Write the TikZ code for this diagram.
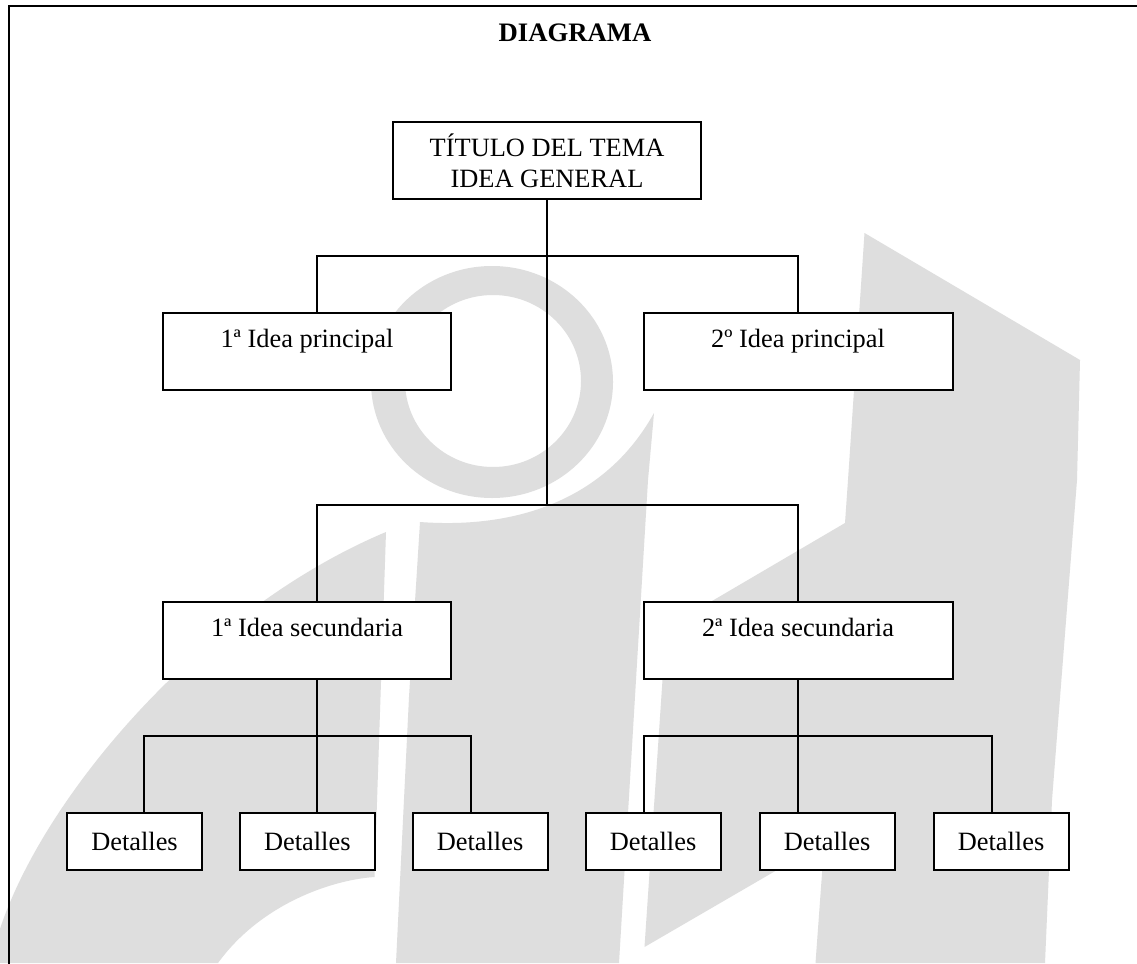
\documentclass[tikz,border=0pt]{standalone}
\usepackage{fontspec}
\setmainfont{Liberation Serif}
\definecolor{wm}{HTML}{DEDEDE}
\tikzset{
  ln/.style={line width=1.5pt,black},
  bx/.style={draw=black,line width=1.5pt,fill=white,inner sep=0pt,align=center,font=\fontsize{19.8pt}{23.4pt}\selectfont,text=black},
  mark shape/.style={fill=wm,draw=none}
}
\begin{document}
\begin{tikzpicture}[x=0.75pt,y=-0.75pt]
\useasboundingbox (0,0) rectangle (1137,963);
\fill[white] (0,0) rectangle (1137,963);
\begin{scope}
\clip (0,0) rectangle (1137,963);
% watermark
\fill[mark shape,even odd rule] (492,382) ellipse [x radius=121,y radius=116] (493,381) ellipse [x radius=88,y radius=86];
\fill[mark shape] (386,532) -- (374.5,877) .. controls (330,880) and (260,905) .. (218,963) -- (-2,963) -- (-2,935) .. controls (40,800) and (200,610) .. (386,532) -- cycle;
\fill[mark shape] (420,522) .. controls (500,528) and (600,510) .. (654,413) -- (648,480) -- (619,963) -- (396,963) -- (409,697) -- cycle;
\fill[mark shape] (864.5,233) -- (1080,360) -- (1077,480) -- (1052,800) -- (1045,963) -- (815.5,963) -- (823,860) -- (777,870) -- (644.5,947) -- (666,628) -- (845,523) -- (848,480) -- cycle;
% frame
\draw[ln] (9.3,970) -- (9.3,6.3) -- (1140,6.3);
\end{scope}
\node[font=\fontsize{20pt}{22.6pt}\selectfont\bfseries] (head) at (575,33) {DIAGRAMA};
\node[bx,minimum width=307.5*0.75pt,minimum height=77*0.75pt] (title) at (547,160.5) {TÍTULO DEL TEMA\\IDEA GENERAL};
\node[bx,minimum width=288*0.75pt,minimum height=77*0.75pt] (p1) at (307,351.5) {1ª Idea principal\\[-4pt]~};
\node[bx,minimum width=309*0.75pt,minimum height=77*0.75pt] (p2) at (798,351.5) {2º Idea principal\\[-4pt]~};
\node[bx,minimum width=288*0.75pt,minimum height=77*0.75pt] (s1) at (307,640.5) {1ª Idea secundaria\\[-4pt]~};
\node[bx,minimum width=309*0.75pt,minimum height=77*0.75pt] (s2) at (798,640.5) {2ª Idea secundaria\\[-4pt]~};
\foreach \n/\c in {d1/134.5,d2/307.3,d3/480,d4/653,d5/827,d6/1001}
  \node[bx,minimum width=135*0.75pt,minimum height=57.5*0.75pt] (\n) at (\c,841.5) {Detalles};
% junctions
\coordinate (ja) at (547,256);
\coordinate (jb) at (547,505.3);
\coordinate (a1) at (317,256);
\coordinate (a2) at (797.5,256);
\coordinate (b1) at (317,505.3);
\coordinate (b2) at (798,505.3);
\coordinate (c0) at (317,736);
\coordinate (c1) at (144,736);
\coordinate (c2) at (470.5,736);
\coordinate (e0) at (798,736);
\coordinate (e1) at (643.5,736);
\coordinate (e2) at (991.5,736);
\draw[ln] (jb) -- (ja |- title.south);
\draw[ln] (p1.north -| a1) -- (a1) -- (a2) -- (p2.north -| a2);
\draw[ln] (s1.north -| b1) -- (b1) -- (b2) -- (s2.north -| b2);
\draw[ln] (s1.south -| c0) -- (c0);
\draw[ln] (d1.north -| c1) -- (c1) -- (c2) -- (d3.north -| c2);
\draw[ln] (c0) -- (d2.north -| c0);
\draw[ln] (s2.south -| e0) -- (e0);
\draw[ln] (d4.north -| e1) -- (e1) -- (e2) -- (d6.north -| e2);
\draw[ln] (e0) -- (d5.north -| e0);
\end{tikzpicture}
\end{document}
